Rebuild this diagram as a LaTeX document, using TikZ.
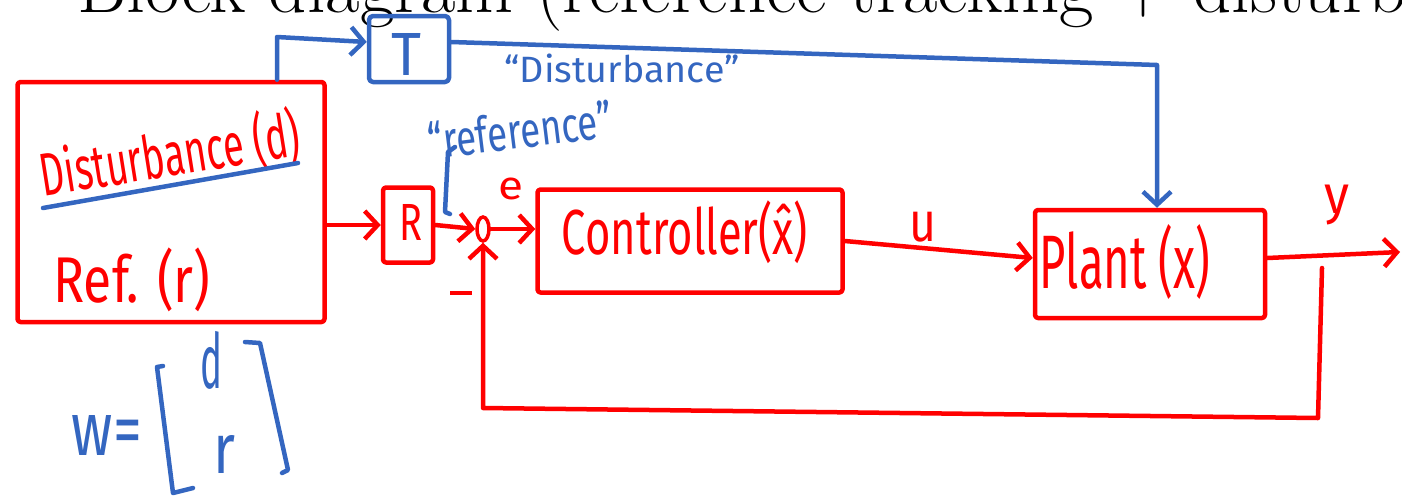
\documentclass[tikz,border=0pt]{standalone}
\usepackage{fontspec}
\usepackage{graphicx}
\usetikzlibrary{arrows.meta,shapes.geometric}
\newfontfamily\hand{Fira Sans}
\definecolor{ink}{RGB}{255,0,0}
\definecolor{pen}{RGB}{52,102,192}
\newcommand\hw[3]{\resizebox*{#1}{#2}{#3}}
\begin{document}
\begin{tikzpicture}[x=1pt,y=-1pt,
  redline/.style={draw=ink,line width=4.5pt,line cap=round,line join=round},
  blueline/.style={draw=pen,line width=4.5pt,line cap=round,line join=round},
  tip/.style={-{Straight Barb[length=13pt,width=28pt]}},
  redbox/.style={redline,rectangle,rounded corners=3pt,inner sep=0pt},
  bluebox/.style={blueline,rectangle,rounded corners=4pt,inner sep=0pt},
  redtext/.style={text=ink,inner sep=0pt,font=\hand},
  bluetext/.style={text=pen,inner sep=0pt,font=\hand},
]
\useasboundingbox (0,0) rectangle (1402,496);
\clip (0,0) rectangle (1402,496);
% title
\node[anchor=base west,inner sep=0pt,font=\fontsize{75}{86}\selectfont] (title) at (77,12) {Block diagram (reference tracking + disturbance};
% source box
\node[redbox,minimum width=307pt,minimum height=240pt] (src) at (171,202) {};
\node[redtext,rotate=9] (dlab) at (170,155) {\hw{262pt}{60pt}{Disturbance (d)}};
\draw[blueline] (43,208) -- (298,163);
\node[redtext] (rlab) at (132,280) {\hw{157pt}{64pt}{Ref. (r)}};
% R box
\node[redbox,minimum width=50pt,minimum height=75pt] (R) at (408,225) {};
\node[redtext] (Rtxt) at (411,222) {\hw{23pt}{36pt}{R}};
% summing junction
\node[draw=ink,line width=3.5pt,ellipse,minimum width=12pt,minimum height=24pt,inner sep=0pt] (sum) at (483,229) {};
\node[redtext] (elab) at (511,189) {\hw{25pt}{22pt}{e}};
\node[redtext] (minus) at (461,293) {\hw{22pt}{4pt}{\rule{10pt}{2pt}}};
% controller
\node[redbox,minimum width=305pt,minimum height=103pt] (ctrl) at (690,241) {};
\node[redtext] (ctxt) at (685,232) {\hw{246pt}{63pt}{Controller(\^{x})}};
% plant
\node[redbox,minimum width=230pt,minimum height=108pt] (plant) at (1150,264) {};
\node[redtext] (ptxt) at (1125,262) {\hw{170pt}{75pt}{Plant (x)}};
\node[redtext] (ulab) at (923,227) {\hw{27pt}{30pt}{u}};
\node[redtext] (ylab) at (1337,205) {\hw{25pt}{40pt}{y}};
% red connectors
\draw[redline,tip] (src.east |- R.west) -- (R.west);
\draw[redline,tip] (R.east) -- (sum.west);
\draw[redline,tip] (sum.east) -- (sum.east -| ctrl.west);
\draw[redline,tip] (ctrl.east) -- ([yshift=6pt]plant.west);
\coordinate (out) at (1400,252);
\draw[redline,tip] ([yshift=6pt]plant.east) -- (out);
\coordinate (br) at (1322,268);
\coordinate (fb1) at (1318,418);
\coordinate (fb2) at (483,408);
\draw[redline,tip] (br) -- (fb1) -- (fb2) -- (sum.south);
% blue T block
\node[bluebox,minimum width=80pt,minimum height=66pt] (T) at (409,49) {};
\node[bluetext] (Ttxt) at (406,54) {\hw{30pt}{42pt}{T}};
\coordinate (tup) at (277,37);
\draw[blueline,tip] (src.north -| tup) -- (tup) -- ([yshift=7pt]T.west);
\coordinate (tc) at (1157,65);
\draw[blueline,tip] ([yshift=7pt]T.east) -- (tc) -- (tc |- plant.north);
\node[bluetext] (dq) at (622,68) {\hw{235pt}{29pt}{“Disturbance”}};
\node[bluetext,rotate=7] (rq) at (520,130) {\hw{185pt}{38pt}{“reference”}};
\draw[blueline] (455,147) -- (448,152) -- (445,212) -- (450,214);
% w = [d; r]
\node[bluetext] (wlab) at (107,435) {\hw{70pt}{40pt}{w=}};
\draw[blueline] (163,366) -- (157,367) -- (173,493) -- (193,488);
\draw[blueline] (245,342) -- (260,343) -- (288,470) -- (282,473);
\node[bluetext] (dd) at (211,360) {\hw{22pt}{58pt}{d}};
\node[bluetext] (rr) at (224,454) {\hw{22pt}{38pt}{r}};
\end{tikzpicture}
\end{document}
